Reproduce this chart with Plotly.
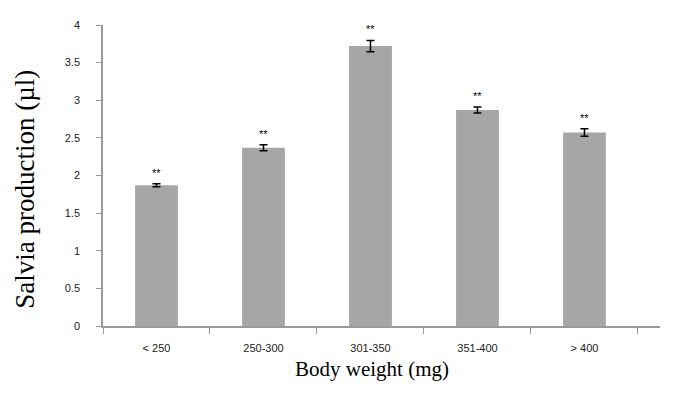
import plotly.graph_objects as go

categories = ["< 250", "250-300", "301-350", "351-400", "> 400"]
values = [1.87, 2.37, 3.72, 2.87, 2.57]
errors = [0.02, 0.04, 0.075, 0.04, 0.05]
stars = ["**", "**", "**", "**", "**"]
y_ticks = [0, 0.5, 1, 1.5, 2, 2.5, 3, 3.5, 4]

fig = go.Figure()
fig.add_trace(go.Bar(
    x=categories, y=values,
    marker=dict(color="#a6a6a6", line=dict(width=0)),
    error_y=dict(type="data", array=errors, color="#000000", thickness=1.5, width=4),
))

for c, v, e, s in zip(categories, values, errors, stars):
    fig.add_annotation(x=c, y=v + e, text=s, showarrow=False, yanchor="bottom",
                       yshift=3, font=dict(family="Arial", size=11, color="#000000"))

fig.add_annotation(xref="paper", yref="paper", x=0.483, y=-0.143, text="Body weight (mg)",
                   showarrow=False, xanchor="center", yanchor="middle",
                   font=dict(family="Liberation Serif", size=21, color="#000000"))
fig.add_annotation(xref="paper", yref="paper", x=-0.140, y=0.453, text="Salvia production (µl)",
                   showarrow=False, xanchor="center", yanchor="middle", textangle=-90,
                   font=dict(family="Liberation Serif", size=27, color="#000000"))

fig.update_layout(
    width=670, height=398,
    margin=dict(l=95, r=18, t=11, b=80),
    paper_bgcolor="white", plot_bgcolor="white",
    bargap=0.6, showlegend=False,
    xaxis=dict(
        range=[-0.5, 4.706],
        showline=True, linecolor="#999999", linewidth=1.5,
        ticks="outside", tickcolor="#999999", ticklen=6, tickson="boundaries",
        tickfont=dict(family="Arial", size=11, color="#222222"),
        ticklabelstandoff=11,
    ),
    yaxis=dict(
        range=[0, 4], tickvals=y_ticks, ticktext=[f"{t:g}" for t in y_ticks],
        showline=True, linecolor="#999999", linewidth=1.5, showgrid=False, zeroline=False,
        ticks="outside", tickcolor="#999999", ticklen=5,
        tickfont=dict(family="Arial", size=11, color="#222222"),
        ticklabelstandoff=14,
    ),
)

fig.write_html("out.html")
